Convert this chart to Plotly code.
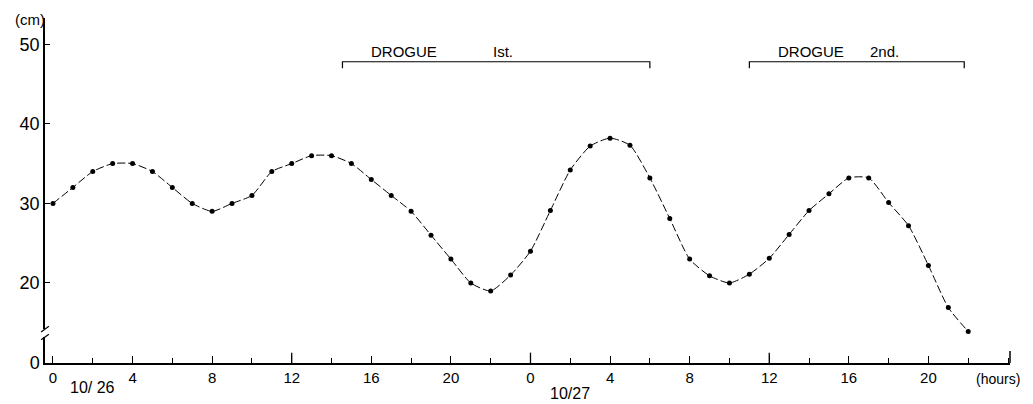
import plotly.graph_objects as go

hours = list(range(47))
level_cm = [30, 32, 34, 35, 35, 34, 32, 30, 29, 30, 31,
            34, 35, 36, 36, 35, 33, 31, 29, 26, 23, 20, 19, 21, 24,
            29.1, 34.2, 37.2, 38.2, 37.3, 33.2, 28.1, 23, 20.9, 20, 21.1,
            23.1, 26.1, 29.1, 31.2, 33.2, 33.2, 30.1, 27.2, 22.2, 16.9, 13.9]

x_tickvals = [0, 4, 8, 12, 16, 20, 24, 28, 32, 36, 40, 44]
x_ticktext = ["0", "4", "8", "12", "16", "20", "0", "4", "8", "12", "16", "20"]
y_tickvals = [10, 20, 30, 40, 50]
y_ticktext = ["0", "20", "30", "40", "50"]

drogues = [("DROGUE", "Ist.", 14.55, 30.0), ("DROGUE", "2nd.", 35.0, 45.8)]

FONT = "Liberation Sans"
fig = go.Figure()
fig.add_trace(go.Scatter(
    x=hours, y=level_cm, mode="lines+markers",
    line=dict(color="black", width=1, dash="8px,3px", shape="spline", smoothing=0.6),
    marker=dict(color="black", size=5),
    showlegend=False, hoverinfo="skip"))

shapes = []
annotations = []
for name, order, x0, x1 in drogues:
    shapes.append(dict(type="path", xref="x", yref="y",
                       path=f"M {x0},47.0 L {x0},47.8 L {x1},47.8 L {x1},47.0",
                       line=dict(color="black", width=1.2)))
    annotations.append(dict(x=x0 + 3.1, y=49.1, xref="x", yref="y", text=name,
                            showarrow=False, font=dict(family=FONT, size=15, color="black")))
    annotations.append(dict(x=x0 + (8.05 if order == "Ist." else 6.8), y=49.1, xref="x", yref="y",
                            text=order, showarrow=False,
                            font=dict(family=FONT, size=15, color="black")))

# longer ticks at noon / midnight and the axis end mark
for xv in (12, 24, 36):
    shapes.append(dict(type="line", xref="x", yref="paper", x0=xv, x1=xv, y0=0, y1=0.03,
                       line=dict(color="black", width=1.3)))
shapes.append(dict(type="line", xref="paper", yref="paper", x0=1, x1=1, y0=0, y1=0.035,
                   line=dict(color="black", width=1.5)))

# y-axis break marks
shapes.append(dict(type="rect", xref="paper", yref="y", x0=-0.004, x1=0.004, y0=13.2, y1=14.2,
                   fillcolor="white", line=dict(width=0), layer="above"))
for yb in (13.2, 14.2):
    shapes.append(dict(type="line", xref="paper", yref="y", x0=-0.004, x1=0.004,
                       y0=yb - 0.35, y1=yb + 0.35, line=dict(color="black", width=1.2)))

annotations += [
    dict(x=0, y=1.0, xref="paper", yref="paper", text="(cm)", showarrow=False,
         xanchor="right", yanchor="middle", xshift=2, yshift=-1,
         font=dict(family=FONT, size=15, color="black")),
    dict(x=1, y=0, xref="paper", yref="paper", text="(hours)", showarrow=False,
         xanchor="center", yanchor="top", xshift=-12, yshift=-6,
         font=dict(family=FONT, size=14, color="black")),
    dict(x=2, y=0, xref="x", yref="paper", text="10/ 26", showarrow=False,
         yanchor="top", yshift=-14, font=dict(family=FONT, size=16, color="black")),
    dict(x=26, y=0, xref="x", yref="paper", text="10/27", showarrow=False,
         yanchor="top", yshift=-20, font=dict(family=FONT, size=16, color="black")),
]

# the page has an 8px body margin, so the figure is offset by 8px
fig.update_layout(
    width=1025, height=396,
    margin=dict(l=37, r=23, t=10, b=41),
    paper_bgcolor="white", plot_bgcolor="white",
    shapes=shapes, annotations=annotations,
    xaxis=dict(range=[-0.4, 48.1], tickvals=x_tickvals, ticktext=x_ticktext,
               ticks="inside", ticklen=7, tickwidth=1.2, tickcolor="black",
               minor=dict(ticks="inside", dtick=2, tick0=0, ticklen=5, tickcolor="black"),
               showline=True, linecolor="black", linewidth=1.5, showgrid=False, zeroline=False,
               automargin=False,
               tickfont=dict(family=FONT, size=15, color="black")),
    yaxis=dict(range=[9.94, 53.3], tickvals=y_tickvals, ticktext=y_ticktext,
               ticks="inside", ticklen=5, tickcolor="black",
               showline=True, linecolor="black", linewidth=1.5, showgrid=False, zeroline=False,
               automargin=False,
               tickfont=dict(family=FONT, size=18, color="black")),
)
fig.write_html("out.html")
